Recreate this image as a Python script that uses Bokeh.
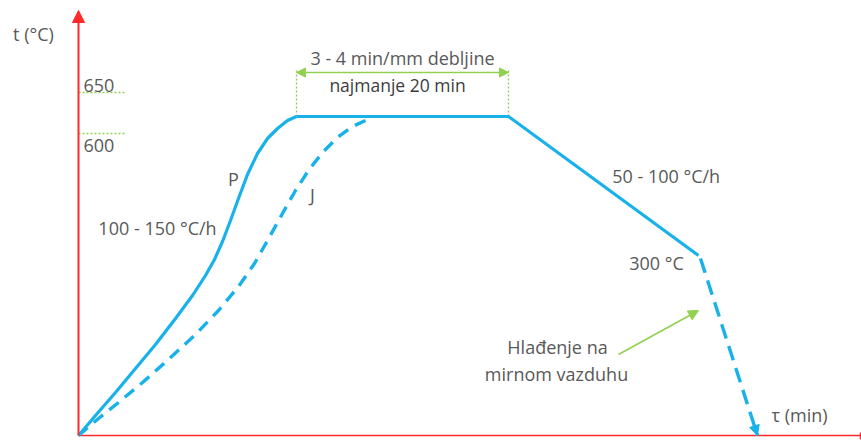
from bokeh.plotting import figure
from bokeh.models import Range1d, Arrow, NormalHead
from bokeh.core.properties import value
from bokeh.embed import file_html
from bokeh.resources import INLINE

# Diagram coordinates (schematic): time units to the right, temperature units upward
# Heating curve P (solid)
p_time = [0, 17, 37, 57, 77, 97, 114, 127, 136, 144, 152, 160, 169, 179, 189, 199, 209, 218]
p_temp = [0, 20, 43, 67, 91, 117, 140, 160, 176, 194, 215, 237, 261, 282, 297, 307, 315, 319]
# Heating curve J (dashed)
j_time = [0, 20, 40, 64, 90, 117, 140, 160, 176, 189, 204, 217, 230, 244, 259, 274, 287]
j_temp = [0, 17, 33, 53, 76, 101, 125, 149, 172, 195, 222, 245, 265, 283, 298, 309, 315]
# Holding + furnace cooling (solid)
hold_time = [218, 430, 620]
hold_temp = [319, 319, 180]
# Air cooling (dashed with arrow)
air_time = [622, 679]
air_temp = [177, 0]
# Axis extents
axis_t_max = 425
axis_time_max = 782
# Temperature marks 650 / 600
mark_labels = ["650", "600"]
mark_line_temp = [343, 302]
mark_label_temp = [350, 290]
mark_line_len = 47
# Holding interval marks
hold_marks_time = [218, 430]
hold_marks_top = 367
hold_arrow_temp = 363
# Air cooling note arrow
note_start = (540, 81)
note_end = (620, 125)

labels = ["t (°C)", "3 - 4 min/mm debljine", "P", "J", "100 - 150 °C/h",
          "50 - 100  °C/h", "300 °C", "Hlađenje na", "mirnom vazduhu", "τ (min)"]
labels_x = [-45, 324, 155, 234, 79, 590, 578, 479, 478, 721]
labels_y = [402, 378, 257, 241, 208, 260, 173, 89, 62, 21]
dark_label = ["najmanje 20 min"]
dark_x = [319]
dark_y = [351]

BLUE = "#19b1ea"
RED = "#ff2a2a"
GREEN = "#92d050"
GRAY = "#595959"
FONT = value("Open Sans")

p = figure(width=861, height=441, x_range=Range1d(-78, 783), y_range=Range1d(-6, 435),
           output_backend="svg", toolbar_location=None, min_border=0,
           x_axis_type=None, y_axis_type=None)
p.grid.visible = False
p.outline_line_color = None
p.background_fill_color = "white"

# Axes
p.line([0, axis_time_max], [0, 0], line_color=RED, line_width=1.6)
p.line([axis_time_max, axis_time_max], [-4, 3], line_color=RED, line_width=1.5)
p.add_layout(Arrow(x_start=0, y_start=0, x_end=0, y_end=axis_t_max,
                   line_color=RED, line_width=2,
                   end=NormalHead(size=12, fill_color=RED, line_color=RED)))

# Green dotted guide lines
for t in mark_line_temp:
    p.line([0, mark_line_len], [t, t], line_color=GREEN, line_width=1.5, line_dash="2 2")
for tm in hold_marks_time:
    p.line([tm, tm], [hold_temp[0], hold_marks_top], line_color=GREEN, line_width=1.3, line_dash="2 2")
p.add_layout(Arrow(x_start=hold_marks_time[0], y_start=hold_arrow_temp,
                   x_end=hold_marks_time[1], y_end=hold_arrow_temp,
                   line_color=GREEN, line_width=1.6,
                   start=NormalHead(size=9, fill_color=GREEN, line_color=GREEN),
                   end=NormalHead(size=9, fill_color=GREEN, line_color=GREEN)))
p.add_layout(Arrow(x_start=note_start[0], y_start=note_start[1],
                   x_end=note_end[0], y_end=note_end[1],
                   line_color=GREEN, line_width=1.6,
                   end=NormalHead(size=10, fill_color=GREEN, line_color=GREEN)))

# Curves
p.line(p_time, p_temp, line_color=BLUE, line_width=3.2, line_join="round")
p.line(j_time, j_temp, line_color=BLUE, line_width=3.4, line_dash="12 8", line_join="round")
p.line(hold_time, hold_temp, line_color=BLUE, line_width=3.2)
p.line(air_time, air_temp, line_color=BLUE, line_width=3.4, line_dash="15 8")
p.add_layout(Arrow(x_start=air_time[0], y_start=air_temp[0],
                   x_end=air_time[1], y_end=air_temp[1],
                   line_alpha=0,
                   end=NormalHead(size=10, fill_color=BLUE, line_color=BLUE)))

# Texts
p.text(x=[5, 5], y=mark_label_temp, text=mark_labels, text_font=FONT,
       text_font_size=value("18px"), text_color=GRAY,
       text_align="left", text_baseline="middle")
p.text(x=labels_x, y=labels_y, text=labels, text_font=FONT,
       text_font_size=value("18px"), text_color=GRAY,
       text_align="center", text_baseline="middle")
p.text(x=dark_x, y=dark_y, text=dark_label, text_font=FONT,
       text_font_size=value("17.5px"), text_color="#3c3c3c",
       text_align="center", text_baseline="middle")

open("out.html", "w").write(file_html(p, INLINE))
